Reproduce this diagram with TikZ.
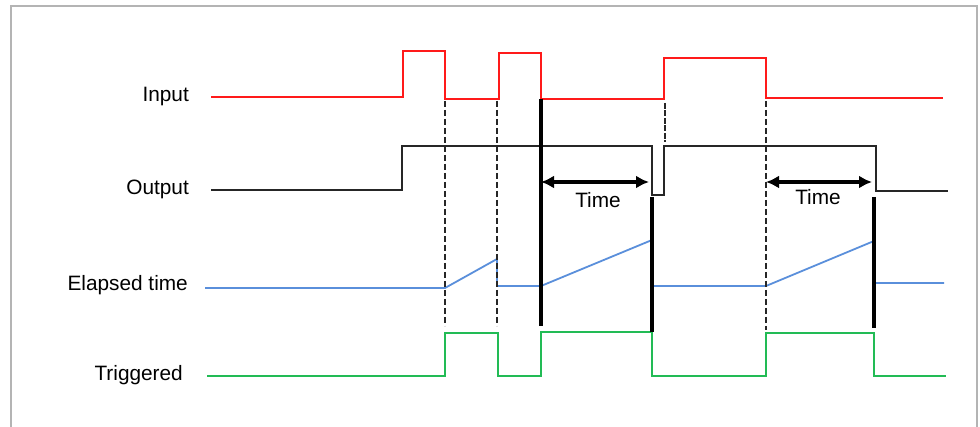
\documentclass[tikz,border=0pt]{standalone}
\usepackage{fontspec}
\setmainfont{Liberation Sans}
\usetikzlibrary{arrows.meta}
\definecolor{sigred}{HTML}{FF1A1A}
\definecolor{sigblk}{HTML}{262626}
\definecolor{sigblue}{HTML}{5A8FDB}
\definecolor{siggreen}{HTML}{22BB55}
\definecolor{framegray}{HTML}{B4B4B4}
\tikzset{
  lbl/.style={anchor=east, inner sep=0pt, font=\fontsize{20.8}{24}\selectfont},
  sig/.style={line width=2pt, line join=miter},
  guide/.style={line width=1.4pt, dash pattern=on 6pt off 3pt, sigblk},
  thickmark/.style={line width=4pt, black},
  timespan/.style={line width=4pt, black, {Latex[length=13pt,width=13pt]}-{Latex[length=13pt,width=13pt]}},
  timelbl/.style={inner sep=0pt, font=\fontsize{20.8}{24}\selectfont},
}
\begin{document}
\begin{tikzpicture}[x=1pt,y=-1pt]
\useasboundingbox (0,0) rectangle (980,427);
\fill[white] (0,0) rectangle (980,427);
\draw[framegray, line width=1.6pt] (11,430) -- (11,6) -- (977,6) -- (977,430);

% labels
\node[lbl] (lin) at (189,97) {Input};
\node[lbl] (lout) at (189,189) {Output};
\node[lbl] (lel) at (188,285) {Elapsed time};
\node[lbl] (ltr) at (183,375) {Triggered};

% input
\draw[sig, sigred] (211,97) -- (403,97) -- (403,51) -- (445,51) -- (445,99) -- (499,99) -- (499,53) -- (541,53) -- (541,99) -- (664,99) -- (664,58) -- (766,58) -- (766,98) -- (943,98);

% output
\draw[sig, sigblk] (211,190) -- (402,190) -- (402,146) -- (652,146) -- (652,195) -- (664,195) -- (664,146) -- (876,146) -- (876,191) -- (948,191);

% elapsed time
\draw[sig, sigblue, line width=1.8pt] (205,288) -- (445,288) -- (497,259) -- (497,286) -- (541,286) -- (652,240) -- (652,286);
\draw[sig, sigblue, line width=1.8pt] (652,286) -- (766,286) -- (874,241) -- (874,283) -- (944,283);

% triggered
\draw[sig, siggreen] (207,376) -- (445,376) -- (445,333) -- (498,333) -- (498,376) -- (541,376) -- (541,332) -- (652,332) -- (652,376) -- (766,376) -- (766,333) -- (874,333) -- (874,376) -- (946,376);

% guides
\draw[guide] (445,101) -- (445,326);
\draw[guide] (497,101) -- (497,326);
\draw[guide] (766,101) -- (766,330);
\draw[guide, line width=2.6pt, dash pattern=on 6pt off 1.5pt] (665,103) -- (665,142);

% thick markers
\draw[thickmark] (541,99) -- (541,326);
\draw[thickmark] (652,197) -- (652,332);
\draw[thickmark] (874,197) -- (874,328);

% time spans
\coordinate (a1) at (541,182);
\coordinate (b1) at (649,182);
\coordinate (a2) at (766,182);
\coordinate (b2) at (872,182);
\draw[timespan] (a1) -- (b1);
\draw[timespan] (a2) -- (b2);
\node[timelbl] (t1) at (598,200) {Time};
\node[timelbl] (t2) at (818,197) {Time};
\end{tikzpicture}
\end{document}
